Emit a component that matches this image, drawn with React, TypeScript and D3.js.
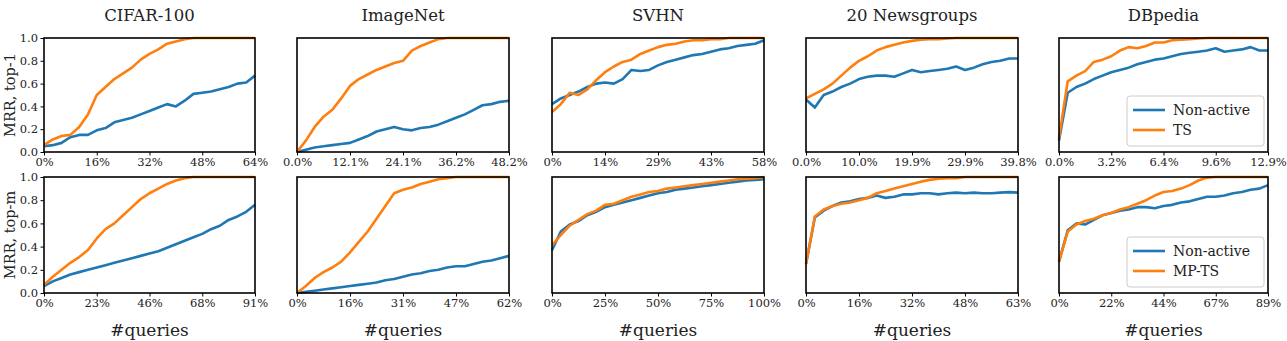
import * as React from 'react';
import * as d3 from 'd3';

// panel titles and row / legend labels
const titles = ['CIFAR-100', 'ImageNet', 'SVHN', '20 Newsgroups', 'DBpedia'];
const rowLabels = ['MRR, top-1', 'MRR, top-m'];
const legendNames = [['Non-active', 'TS'], ['Non-active', 'MP-TS']];
const yTicks = [0, 0.2, 0.4, 0.6, 0.8, 1.0];

// x tick labels (ticks sit at 0, 1/4, 1/2, 3/4, 1 of the queried span)
const topTickLabels = [
  ['0%', '16%', '32%', '48%', '64%'],
  ['0.0%', '12.1%', '24.1%', '36.2%', '48.2%'],
  ['0%', '14%', '29%', '43%', '58%'],
  ['0.0%', '10.0%', '19.9%', '29.9%', '39.8%'],
  ['0.0%', '3.2%', '6.4%', '9.6%', '12.9%'],
];
const bottomTickLabels = [
  ['0%', '23%', '46%', '68%', '91%'],
  ['0%', '16%', '31%', '47%', '62%'],
  ['0%', '25%', '50%', '75%', '100%'],
  ['0%', '16%', '32%', '48%', '63%'],
  ['0%', '22%', '44%', '67%', '89%'],
];

// --- top row: Non-active vs TS (25 evenly spaced samples over the span)
const cifarTopBase = [0.05, 0.06, 0.08, 0.13, 0.15, 0.15, 0.19, 0.21, 0.26, 0.28, 0.30, 0.33, 0.36, 0.39, 0.42, 0.40, 0.45, 0.51, 0.52, 0.53, 0.55, 0.57, 0.60, 0.61, 0.67];
const cifarTopTS = [0.06, 0.11, 0.14, 0.15, 0.22, 0.33, 0.50, 0.57, 0.64, 0.69, 0.74, 0.81, 0.86, 0.90, 0.95, 0.97, 0.99, 1.0, 1.0, 1.0, 1.0, 1.0, 1.0, 1.0, 1.0];
const imagenetTopBase = [0.0, 0.02, 0.04, 0.05, 0.06, 0.07, 0.08, 0.11, 0.14, 0.18, 0.20, 0.22, 0.20, 0.19, 0.21, 0.22, 0.24, 0.27, 0.30, 0.33, 0.37, 0.41, 0.42, 0.44, 0.45];
const imagenetTopTS = [0.0, 0.10, 0.22, 0.31, 0.37, 0.47, 0.58, 0.64, 0.68, 0.72, 0.75, 0.78, 0.80, 0.89, 0.93, 0.96, 0.99, 1.0, 1.0, 1.0, 1.0, 1.0, 1.0, 1.0, 1.0];
const svhnTopBase = [0.42, 0.47, 0.50, 0.53, 0.57, 0.60, 0.61, 0.60, 0.64, 0.72, 0.71, 0.72, 0.76, 0.79, 0.81, 0.83, 0.85, 0.86, 0.88, 0.90, 0.91, 0.93, 0.94, 0.95, 0.98];
const svhnTopTS = [0.35, 0.42, 0.52, 0.50, 0.55, 0.63, 0.70, 0.75, 0.79, 0.81, 0.86, 0.89, 0.92, 0.94, 0.95, 0.97, 0.98, 0.98, 0.99, 0.99, 1.0, 1.0, 1.0, 1.0, 1.0];
const newsTopBase = [0.46, 0.39, 0.50, 0.53, 0.57, 0.60, 0.64, 0.66, 0.67, 0.67, 0.66, 0.69, 0.72, 0.70, 0.71, 0.72, 0.73, 0.75, 0.72, 0.74, 0.77, 0.79, 0.80, 0.82, 0.82];
const newsTopTS = [0.47, 0.51, 0.55, 0.60, 0.67, 0.74, 0.80, 0.84, 0.89, 0.92, 0.94, 0.96, 0.975, 0.985, 0.99, 0.99, 0.995, 1.0, 1.0, 1.0, 1.0, 1.0, 1.0, 1.0, 1.0];
const dbpediaTopBase = [0.10, 0.52, 0.57, 0.60, 0.64, 0.67, 0.70, 0.72, 0.74, 0.77, 0.79, 0.81, 0.82, 0.84, 0.86, 0.87, 0.88, 0.89, 0.91, 0.88, 0.89, 0.90, 0.92, 0.89, 0.89];
const dbpediaTopTS = [0.12, 0.62, 0.67, 0.71, 0.79, 0.81, 0.84, 0.89, 0.92, 0.91, 0.93, 0.96, 0.96, 0.98, 0.985, 0.99, 0.995, 1.0, 1.0, 1.0, 1.0, 1.0, 1.0, 1.0, 1.0];

// --- bottom row: Non-active vs MP-TS
const cifarBotBase = [0.06, 0.10, 0.13, 0.16, 0.18, 0.20, 0.22, 0.24, 0.26, 0.28, 0.30, 0.32, 0.34, 0.36, 0.39, 0.42, 0.45, 0.48, 0.51, 0.55, 0.58, 0.63, 0.66, 0.70, 0.76];
const cifarBotMPTS = [0.07, 0.14, 0.20, 0.26, 0.31, 0.37, 0.47, 0.55, 0.60, 0.67, 0.74, 0.81, 0.86, 0.90, 0.94, 0.97, 0.99, 1.0, 1.0, 1.0, 1.0, 1.0, 1.0, 1.0, 1.0];
const imagenetBotBase = [0.0, 0.01, 0.02, 0.03, 0.04, 0.05, 0.06, 0.07, 0.08, 0.09, 0.11, 0.12, 0.14, 0.16, 0.17, 0.19, 0.20, 0.22, 0.23, 0.23, 0.25, 0.27, 0.28, 0.30, 0.32];
const imagenetBotMPTS = [0.0, 0.06, 0.13, 0.18, 0.22, 0.27, 0.35, 0.44, 0.53, 0.64, 0.75, 0.86, 0.89, 0.91, 0.94, 0.96, 0.98, 0.99, 1.0, 1.0, 1.0, 1.0, 1.0, 1.0, 1.0];
const svhnBotBase = [0.37, 0.53, 0.59, 0.62, 0.67, 0.70, 0.74, 0.76, 0.78, 0.80, 0.82, 0.84, 0.86, 0.87, 0.89, 0.90, 0.91, 0.92, 0.93, 0.94, 0.95, 0.96, 0.97, 0.975, 0.98];
const svhnBotMPTS = [0.41, 0.50, 0.58, 0.63, 0.68, 0.71, 0.76, 0.77, 0.80, 0.83, 0.85, 0.87, 0.88, 0.90, 0.91, 0.92, 0.93, 0.94, 0.95, 0.96, 0.97, 0.98, 0.985, 0.99, 1.0];
const newsBotBase = [0.25, 0.65, 0.71, 0.75, 0.78, 0.79, 0.81, 0.82, 0.84, 0.82, 0.83, 0.85, 0.85, 0.86, 0.86, 0.85, 0.86, 0.865, 0.86, 0.865, 0.86, 0.86, 0.865, 0.87, 0.865];
const newsBotMPTS = [0.25, 0.66, 0.72, 0.75, 0.77, 0.78, 0.80, 0.82, 0.86, 0.88, 0.90, 0.92, 0.94, 0.96, 0.975, 0.985, 0.99, 0.99, 1.0, 1.0, 1.0, 1.0, 1.0, 1.0, 1.0];
const dbpediaBotBase = [0.27, 0.54, 0.60, 0.59, 0.63, 0.67, 0.69, 0.71, 0.72, 0.74, 0.74, 0.73, 0.75, 0.76, 0.78, 0.79, 0.81, 0.83, 0.83, 0.84, 0.86, 0.87, 0.89, 0.90, 0.93];
const dbpediaBotMPTS = [0.27, 0.53, 0.59, 0.62, 0.64, 0.67, 0.69, 0.72, 0.74, 0.77, 0.80, 0.84, 0.87, 0.88, 0.90, 0.93, 0.97, 0.995, 1.0, 1.0, 1.0, 1.0, 1.0, 1.0, 1.0];

const topSeries = [
  [cifarTopBase, cifarTopTS],
  [imagenetTopBase, imagenetTopTS],
  [svhnTopBase, svhnTopTS],
  [newsTopBase, newsTopTS],
  [dbpediaTopBase, dbpediaTopTS],
];
const bottomSeries = [
  [cifarBotBase, cifarBotMPTS],
  [imagenetBotBase, imagenetBotMPTS],
  [svhnBotBase, svhnBotMPTS],
  [newsBotBase, newsBotMPTS],
  [dbpediaBotBase, dbpediaBotMPTS],
];

const colors = ['#1f77b4', '#ff7f0e'];
const FONT = '"DejaVu Serif", serif';

const W = 1287;
const H = 341;
const colLeft = [44, 297, 552, 806, 1059];
const colRight = [255, 509, 764, 1018, 1268];
const rowTop = [38, 177];
const rowBottom = [152, 293];

export default function App() {
  const svg_root = React.useRef() as React.MutableRefObject<any>;

  React.useEffect(() => {
    const svg = d3.select(svg_root.current);
    svg.selectAll('*').remove();

    const rows = [
      { series: topSeries, ticks: topTickLabels, legend: legendNames[0] },
      { series: bottomSeries, ticks: bottomTickLabels, legend: legendNames[1] },
    ];

    rows.forEach((row, r) => {
      const h = rowBottom[r] - rowTop[r];

      row.series.forEach((pair, c) => {
        const w = colRight[c] - colLeft[c];
        const x = d3.scaleLinear().domain([0, 1]).range([0, w]);
        const y = d3.scaleLinear().domain([0, 1]).range([h, 0]);
        const g = svg.append('g').attr('transform', `translate(${colLeft[c]},${rowTop[r]})`);

        // lines
        pair.forEach((vals, s) => {
          const line = d3.line<number>()
            .x((_, i) => x(i / (vals.length - 1)))
            .y((v) => y(v));
          g.append('path')
            .datum(vals)
            .attr('d', line)
            .attr('fill', 'none')
            .attr('stroke', colors[s])
            .attr('stroke-width', 2.6)
            .attr('stroke-linejoin', 'round');
        });

        // x axis
        const labels = row.ticks[c];
        const xAxis = g.append('g')
          .attr('transform', `translate(0,${h})`)
          .call(d3.axisBottom(x)
            .tickValues([0, 0.25, 0.5, 0.75, 1])
            .tickFormat((_, i) => labels[i])
            .tickSize(3.5)
            .tickPadding(2.5));
        xAxis.select('.domain').remove();
        xAxis.selectAll('text').attr('font-family', FONT).attr('font-size', 11.5).attr('fill', '#222');
        xAxis.selectAll('line').attr('stroke', '#000').attr('stroke-width', 1);

        // y axis only on the first column
        if (c === 0) {
          const yAxis = g.append('g')
            .call(d3.axisLeft(y)
              .tickValues(yTicks)
              .tickFormat(d3.format('.1f'))
              .tickSize(3.5)
              .tickPadding(2.5));
          yAxis.select('.domain').remove();
          yAxis.selectAll('text').attr('font-family', FONT).attr('font-size', 11.5).attr('fill', '#222');
          yAxis.selectAll('line').attr('stroke', '#000').attr('stroke-width', 1);
        }

        // frame
        g.append('rect')
          .attr('width', w).attr('height', h)
          .attr('fill', 'none')
          .attr('stroke', '#000')
          .attr('stroke-width', 1.6);

        if (r === 0) {
          svg.append('text')
            .attr('x', colLeft[c] + w / 2).attr('y', 21)
            .attr('text-anchor', 'middle')
            .attr('font-family', FONT).attr('font-size', 16.5).attr('fill', '#222')
            .text(titles[c]);
        } else {
          svg.append('text')
            .attr('x', colLeft[c] + w / 2).attr('y', 336)
            .attr('text-anchor', 'middle')
            .attr('font-family', FONT).attr('font-size', 17).attr('fill', '#222')
            .text('#queries');
        }

        // legend in the last column
        if (c === 4) {
          const lw = 137;
          const lh = 50;
          const lg = g.append('g').attr('transform', `translate(${w - lw - 4},${h - lh - 6})`);
          lg.append('rect')
            .attr('width', lw).attr('height', lh).attr('rx', 3)
            .attr('fill', 'white').attr('fill-opacity', 0.85)
            .attr('stroke', '#ccc').attr('stroke-width', 1);
          row.legend.forEach((name, s) => {
            const ly = 14 + s * 20;
            lg.append('line')
              .attr('x1', 6).attr('x2', 38).attr('y1', ly).attr('y2', ly)
              .attr('stroke', colors[s]).attr('stroke-width', 2.6);
            lg.append('text')
              .attr('x', 46).attr('y', ly + 5)
              .attr('font-family', FONT).attr('font-size', 14).attr('fill', '#222')
              .text(name);
          });
        }
      });

      // row label, kept inside the left edge
      svg.append('text')
        .attr('transform', `translate(15,${(rowTop[r] + rowBottom[r]) / 2}) rotate(-90)`)
        .attr('text-anchor', 'middle')
        .attr('font-family', FONT).attr('font-size', 14.5).attr('fill', '#222')
        .text(rowLabels[r]);
    });
  }, []);

  return (
    <svg ref={svg_root} width={W} height={H}
         style={{ position: 'absolute', left: 0, top: 0, background: 'white' }} />
  );
}
